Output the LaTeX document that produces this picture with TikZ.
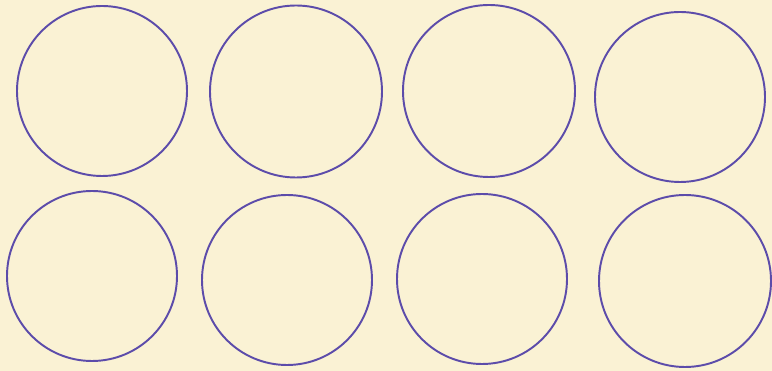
\documentclass[tikz,border=0pt]{standalone}
\usepackage{tikz}
\definecolor{paper}{RGB}{250,242,212}
\definecolor{ink}{RGB}{92,76,170}

\begin{document}
\begin{tikzpicture}
\fill[paper] (0,0) rectangle (15.440,7.420);
\draw[ink,line width=1.1pt] (2.040,5.600) circle (1.700);
\draw[ink,line width=1.1pt] (5.920,5.590) circle (1.720);
\draw[ink,line width=1.1pt] (9.780,5.600) circle (1.720);
\draw[ink,line width=1.1pt] (13.600,5.480) circle (1.700);
\draw[ink,line width=1.1pt] (1.840,1.900) circle (1.700);
\draw[ink,line width=1.1pt] (5.740,1.820) circle (1.700);
\draw[ink,line width=1.1pt] (9.640,1.840) circle (1.700);
\draw[ink,line width=1.1pt] (13.700,1.800) circle (1.720);
\end{tikzpicture}
\end{document}
